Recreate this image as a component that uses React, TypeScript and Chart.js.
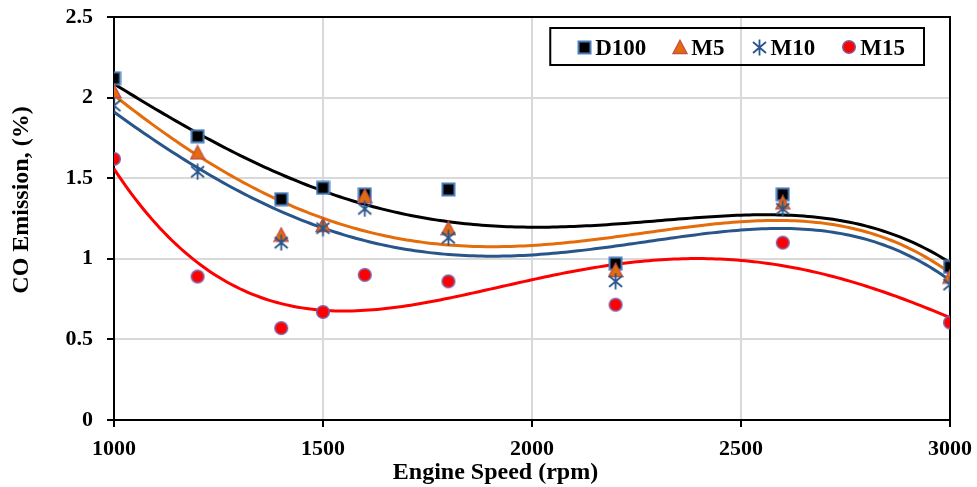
import React, { useEffect, useRef } from 'react';
import { Chart, registerables } from 'chart.js';

Chart.register(...registerables);

// ---- data ----
const speeds = [1000, 1200, 1400, 1500, 1600, 1800, 2200, 2600, 3000];
const d100 = [2.12, 1.76, 1.37, 1.44, 1.4, 1.43, 0.97, 1.4, 0.95];
const m5 = [2.04, 1.66, 1.15, 1.21, 1.39, 1.19, 0.93, 1.35, 0.89];
const m10 = [1.95, 1.54, 1.1, 1.19, 1.31, 1.13, 0.86, 1.31, 0.84];
const m15 = [1.62, 0.89, 0.57, 0.67, 0.9, 0.86, 0.715, 1.1, 0.605];
const seriesLabels = ['D100', 'M5', 'M10', 'M15'];
const xTickValues = [1000, 1500, 2000, 2500, 3000];
const yTickLabels = ['0', '0.5', '1', '1.5', '2', '2.5'];
const xTitle = 'Engine Speed (rpm)';
const yTitle = 'CO Emission, (%)';
const trendOrder = 4;

const SERIF = "'Liberation Serif', 'Times New Roman', serif";
const lineColors = ['#000000', '#E46C0A', '#28558A', '#FF0000'];

// Least-squares polynomial trendline (like Excel's polynomial trendline)
function polyFit(xs: number[], ys: number[], order: number) {
  const n = order + 1;
  const A = Array.from({ length: n }, () => new Array(n).fill(0));
  const b = new Array(n).fill(0);
  xs.forEach((x, i) => {
    const t = (x - 2000) / 1000;
    const p: number[] = [];
    for (let j = 0; j < n; j++) p.push(Math.pow(t, j));
    for (let j = 0; j < n; j++) {
      for (let k = 0; k < n; k++) A[j][k] += p[j] * p[k];
      b[j] += p[j] * ys[i];
    }
  });
  for (let c = 0; c < n; c++) {
    let piv = c;
    for (let r = c + 1; r < n; r++) if (Math.abs(A[r][c]) > Math.abs(A[piv][c])) piv = r;
    [A[c], A[piv]] = [A[piv], A[c]];
    [b[c], b[piv]] = [b[piv], b[c]];
    for (let r = c + 1; r < n; r++) {
      const f = A[r][c] / A[c][c];
      for (let k = c; k < n; k++) A[r][k] -= f * A[c][k];
      b[r] -= f * b[c];
    }
  }
  const co = new Array(n).fill(0);
  for (let r = n - 1; r >= 0; r--) {
    let s = b[r];
    for (let k = r + 1; k < n; k++) s -= A[r][k] * co[k];
    co[r] = s / A[r][r];
  }
  return (x: number) => {
    const t = (x - 2000) / 1000;
    let s = 0;
    for (let j = 0; j < n; j++) s += co[j] * Math.pow(t, j);
    return s;
  };
}

function trendPoints(xs: number[], ys: number[]) {
  const f = polyFit(xs, ys, trendOrder);
  const lo = xs[0];
  const hi = xs[xs.length - 1];
  const pts: { x: number; y: number }[] = [];
  for (let x = lo; x <= hi; x += 10) pts.push({ x, y: f(x) });
  return pts;
}

function makeCanvas(w: number, h: number, draw: (c: CanvasRenderingContext2D) => void) {
  const cv = document.createElement('canvas');
  cv.width = w;
  cv.height = h;
  const c = cv.getContext('2d')!;
  draw(c);
  return cv;
}

function makeMarkers() {
  const square = makeCanvas(15, 15, (c) => {
    c.fillStyle = '#000';
    c.fillRect(1.5, 1.5, 12, 12);
    c.strokeStyle = '#4A7EBB';
    c.lineWidth = 2;
    c.strokeRect(1.5, 1.5, 12, 12);
  });
  const tri = makeCanvas(16, 16, (c) => {
    c.beginPath();
    c.moveTo(8, 1.2);
    c.lineTo(15, 14.5);
    c.lineTo(1, 14.5);
    c.closePath();
    c.fillStyle = '#E46C0A';
    c.fill();
    c.strokeStyle = '#C0504D';
    c.lineWidth = 1.3;
    c.stroke();
  });
  const star = makeCanvas(17, 17, (c) => {
    c.strokeStyle = '#28558A';
    c.lineWidth = 1.8;
    c.lineCap = 'butt';
    c.beginPath();
    c.moveTo(2, 3);
    c.lineTo(15, 14);
    c.moveTo(15, 3);
    c.lineTo(2, 14);
    c.moveTo(8.5, 0.5);
    c.lineTo(8.5, 16.5);
    c.stroke();
  });
  const circ = makeCanvas(16, 16, (c) => {
    c.beginPath();
    c.arc(8, 8, 6.3, 0, Math.PI * 2);
    c.fillStyle = '#FF0000';
    c.fill();
    c.strokeStyle = '#7F60A8';
    c.lineWidth = 1.5;
    c.stroke();
  });
  return [square, tri, star, circ];
}

function zeroPadding(s: any) {
  s.paddingTop = 0;
  s.paddingBottom = 0;
  s.paddingLeft = 0;
  s.paddingRight = 0;
}

export default function App() {
  const ref = useRef<HTMLCanvasElement>(null);

  useEffect(() => {
    const canvas = ref.current;
    if (!canvas) return;
    const markers = makeMarkers();
    const values = [d100, m5, m10, m15];

    const scatterSets = values.map((vals, i) => ({
      label: seriesLabels[i],
      data: speeds.map((x, k) => ({ x, y: vals[k] })),
      pointStyle: markers[i] as any,
      pointRadius: 8,
      showLine: false,
      order: 4 - i,
    }));
    const trendSets = values.map((vals, i) => ({
      label: seriesLabels[i] + ' trend',
      data: trendPoints(speeds, vals),
      showLine: true,
      borderColor: lineColors[i],
      borderWidth: 3,
      pointRadius: 0,
      tension: 0,
      fill: false,
      order: 20 - i,
    }));

    const framePlugin = {
      id: 'frame',
      beforeDatasetsDraw(chart: any) {
        const { ctx, chartArea: a } = chart;
        ctx.save();
        ctx.strokeStyle = '#000';
        ctx.lineWidth = 2;
        ctx.beginPath();
        ctx.moveTo(a.left, a.top);
        ctx.lineTo(a.right, a.top);
        ctx.lineTo(a.right, a.bottom);
        ctx.stroke();
        ctx.restore();
      },
      afterDraw(chart: any) {
        const { ctx, chartArea: a } = chart;
        ctx.save();
        ctx.fillStyle = '#000';
        ctx.font = `bold 24px ${SERIF}`;
        ctx.textAlign = 'center';
        ctx.textBaseline = 'middle';
        ctx.fillText(xTitle, chart.width / 2 + 7, a.bottom + 53);
        ctx.translate(22, a.top + 183);
        ctx.rotate(-Math.PI / 2);
        ctx.fillText(yTitle, 0, 0);
        ctx.restore();

        // legend
        ctx.save();
        ctx.font = `bold 23px ${SERIF}`;
        const gapMarkerText = 3;
        const gapItems = 26;
        const padL = 27;
        const padR = 19;
        let total = padL + padR;
        seriesLabels.forEach((lab, i) => {
          total += markers[i].width + gapMarkerText + ctx.measureText(lab).width;
          if (i < seriesLabels.length - 1) total += gapItems;
        });
        const right = a.right - 26;
        const left = right - total;
        const top = a.top + 11;
        const h = 37;
        ctx.strokeStyle = '#000';
        ctx.lineWidth = 2;
        ctx.strokeRect(left, top, total, h);
        const cy = top + h / 2;
        let cur = left + padL;
        ctx.fillStyle = '#000';
        ctx.textAlign = 'left';
        ctx.textBaseline = 'alphabetic';
        seriesLabels.forEach((lab, i) => {
          const m = markers[i];
          ctx.drawImage(m, Math.round(cur), Math.round(cy - m.height / 2 + 0.5));
          cur += m.width + gapMarkerText;
          ctx.fillText(lab, cur, cy + 8);
          cur += ctx.measureText(lab).width + gapItems;
        });
        ctx.restore();
      },
    };

    const chart = new Chart(canvas, {
      type: 'scatter',
      data: { datasets: [...scatterSets, ...trendSets] as any },
      options: {
        responsive: false,
        animation: false,
        devicePixelRatio: 1,
        layout: { padding: { top: 17, right: 27, left: 0, bottom: 0 } },
        plugins: { legend: { display: false }, tooltip: { enabled: false } },
        scales: {
          x: {
            type: 'linear',
            min: 1000,
            max: 3000,
            afterFit: (s: any) => {
              s.height = 67;
              zeroPadding(s);
            },
            afterBuildTicks: (s: any) => {
              s.ticks = xTickValues.map((v) => ({ value: v }));
            },
            ticks: {
              color: '#000',
              font: { family: SERIF, size: 22, weight: 'bold' },
              padding: 9,
              maxRotation: 0,
              callback: (v: any) => String(v),
            },
            grid: {
              color: (c: any) =>
                c.tick && (c.tick.value === 1000 || c.tick.value === 3000) ? 'rgba(0,0,0,0)' : '#D9D9D9',
              lineWidth: 2,
              tickLength: 7,
              tickColor: '#000',
              tickWidth: 2,
            },
            border: { color: '#000', width: 2 },
          },
          y: {
            type: 'linear',
            min: 0,
            max: 2.5,
            afterFit: (s: any) => {
              s.width = 114;
              zeroPadding(s);
            },
            afterBuildTicks: (s: any) => {
              s.ticks = yTickLabels.map((t) => ({ value: parseFloat(t) }));
            },
            ticks: {
              color: '#000',
              font: { family: SERIF, size: 22, weight: 'bold' },
              padding: 14,
              callback: (v: any) => {
                const idx = yTickLabels.findIndex((t) => parseFloat(t) === v);
                return idx >= 0 ? yTickLabels[idx] : String(v);
              },
            },
            grid: {
              color: (c: any) =>
                c.tick && (c.tick.value === 0 || c.tick.value === 2.5) ? 'rgba(0,0,0,0)' : '#D9D9D9',
              lineWidth: 2,
              tickLength: 7,
              tickColor: '#000',
              tickWidth: 2,
            },
            border: { color: '#000', width: 2 },
          },
        },
      } as any,
      plugins: [framePlugin],
    });
    return () => chart.destroy();
  }, []);

  return (
    <div style={{ position: 'absolute', left: 0, top: 0, width: 977, height: 487, background: '#fff' }}>
      <canvas ref={ref} width={977} height={487} style={{ display: 'block', width: 977, height: 487 }} />
    </div>
  );
}
